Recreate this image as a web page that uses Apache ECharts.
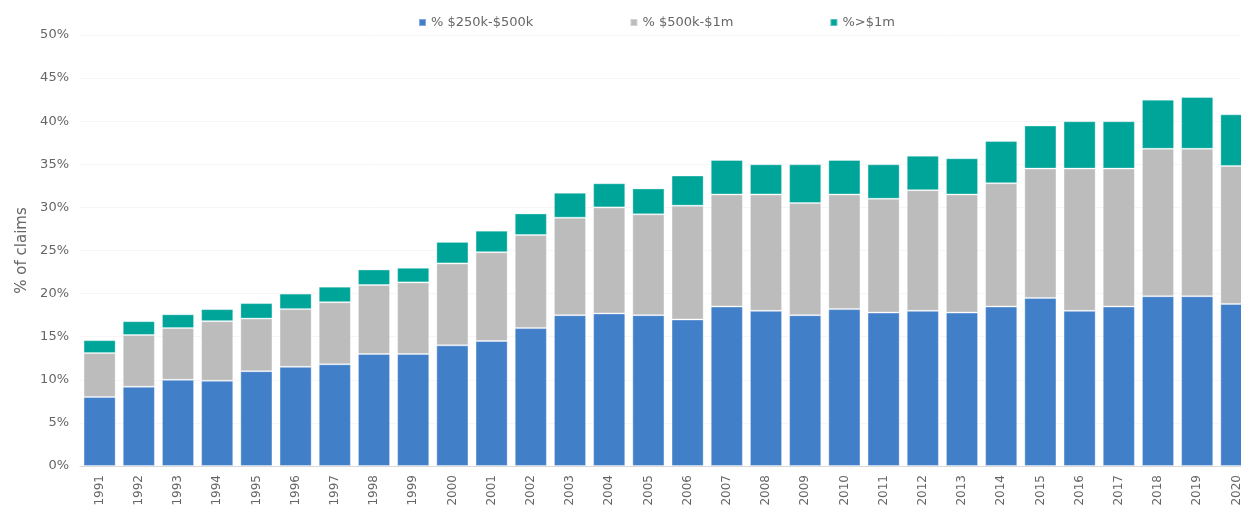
<!DOCTYPE html>
<html>
<head>
<meta charset="utf-8">
<script src="https://cdn.jsdelivr.net/npm/echarts@6/dist/echarts.min.js"></script>
<style>
  html, body { margin: 0; padding: 0; background: #fff; overflow: hidden; }
  #myCharts { width: 1241px; height: 505px; }
</style>
</head>
<body>
<div id="myCharts"></div>
<script>
var years = ["1991", "1992", "1993", "1994", "1995", "1996", "1997", "1998", "1999", "2000",
  "2001", "2002", "2003", "2004", "2005", "2006", "2007", "2008", "2009", "2010",
  "2011", "2012", "2013", "2014", "2015", "2016", "2017", "2018", "2019", "2020"];

// % $250k-$500k
var low = [8.0, 9.2, 10.0, 9.9, 11.0, 11.5, 11.8, 13.0, 13.0, 14.0,
  14.5, 16.0, 17.5, 17.7, 17.5, 17.0, 18.5, 18.0, 17.5, 18.2,
  17.8, 18.0, 17.8, 18.5, 19.5, 18.0, 18.5, 19.7, 19.7, 18.8];
// % $500k-$1m
var mid = [5.1, 6.0, 6.0, 6.9, 6.1, 6.7, 7.2, 8.0, 8.3, 9.5,
  10.3, 10.8, 11.3, 12.3, 11.7, 13.2, 13.0, 13.5, 13.0, 13.3,
  13.2, 14.0, 13.7, 14.3, 15.0, 16.5, 16.0, 17.1, 17.1, 16.0];
// %>$1m
var high = [1.5, 1.6, 1.6, 1.4, 1.8, 1.8, 1.8, 1.8, 1.7, 2.5,
  2.5, 2.5, 2.9, 2.8, 3.0, 3.5, 4.0, 3.5, 4.5, 4.0,
  4.0, 4.0, 4.2, 4.9, 5.0, 5.5, 5.5, 5.7, 6.0, 6.0];

var yTicks = [0, 5, 10, 15, 20, 25, 30, 35, 40, 45, 50];

var myChart = echarts.init(document.getElementById("myCharts"));
var font = "DejaVu Sans";
var textColor = "#666666";
var edge = "rgba(255,255,255,0.35)";

var option = {
  animation: false,
  textStyle: { fontFamily: font },
  legend: {
    top: 11,
    left: 413,
    icon: "rect",
    itemWidth: 7,
    itemHeight: 7,
    itemGap: 96,
    textStyle: { color: textColor, fontSize: 13, fontFamily: font },
    data: ["% $250k-$500k", "% $500k-$1m", "%>$1m"]
  },
  // the source chart is cut off on the right, so the plot runs past the canvas edge
  grid: {
    left: 80,
    right: -15,
    top: 35,
    bottom: 39,
    outerBoundsMode: "none",
    containLabel: false
  },
  xAxis: {
    type: "category",
    data: years,
    axisLine: { lineStyle: { color: "#d9d9d9", width: 1 } },
    axisTick: { show: false },
    axisLabel: {
      rotate: 90,
      color: textColor,
      fontSize: 12,
      margin: 9,
      fontFamily: font
    }
  },
  yAxis: {
    type: "value",
    min: yTicks[0],
    max: yTicks[yTicks.length - 1],
    interval: 5,
    name: "% of claims",
    nameLocation: "middle",
    nameGap: 50,
    nameTextStyle: { color: textColor, fontSize: 15, fontFamily: font },
    axisLine: { show: false },
    axisTick: { show: false },
    splitLine: { show: true, lineStyle: { color: "#f6f6f6" } },
    axisLabel: {
      color: textColor,
      fontSize: 13,
      margin: 11,
      fontFamily: font,
      formatter: "{value}%"
    }
  },
  series: [
    {
      name: "% $250k-$500k",
      type: "bar",
      stack: "claims",
      barCategoryGap: "18%",
      data: low,
      itemStyle: { color: "#427fc9", borderColor: edge, borderWidth: 1 }
    },
    {
      name: "% $500k-$1m",
      type: "bar",
      stack: "claims",
      data: mid,
      itemStyle: { color: "#bbbcbb", borderColor: edge, borderWidth: 1 }
    },
    {
      name: "%>$1m",
      type: "bar",
      stack: "claims",
      data: high,
      itemStyle: { color: "#00a59a", borderColor: edge, borderWidth: 1 }
    }
  ]
};
myChart.setOption(option);
</script>
</body>
</html>
